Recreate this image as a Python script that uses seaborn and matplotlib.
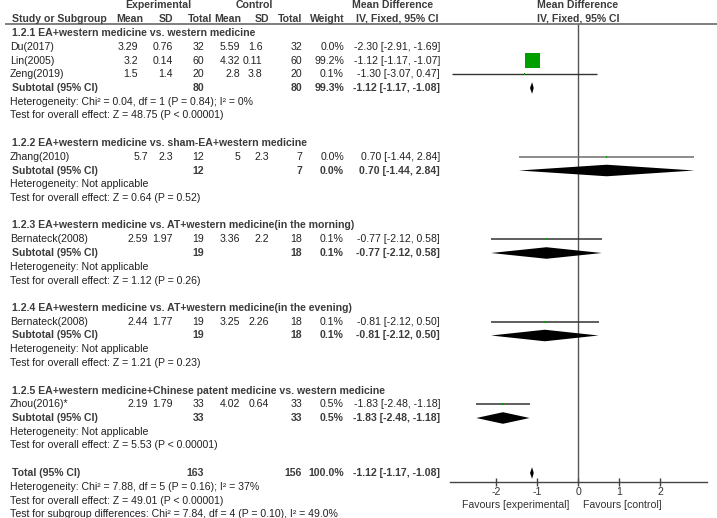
import matplotlib
matplotlib.use("Agg")
import matplotlib.pyplot as plt
import seaborn as sns
import pandas as pd

# ---- data ----
groups = [
    "1.2.1 EA+western medicine vs. western medicine",
    "1.2.2 EA+western medicine vs. sham-EA+western medicine",
    "1.2.3 EA+western medicine vs. AT+western medicine(in the morning)",
    "1.2.4 EA+western medicine vs. AT+western medicine(in the evening)",
    "1.2.5 EA+western medicine+Chinese patent medicine vs. western medicine",
]
study = ["Du(2017)", "Lin(2005)", "Zeng(2019)", "Zhang(2010)",
         "Bernateck(2008)", "Bernateck(2008)", "Zhou(2016)*"]
study_group = [0, 0, 0, 1, 2, 3, 4]
exp_mean = ["3.29", "3.2", "1.5", "5.7", "2.59", "2.44", "2.19"]
exp_sd = ["0.76", "0.14", "1.4", "2.3", "1.97", "1.77", "1.79"]
exp_n = [32, 60, 20, 12, 19, 19, 33]
ctl_mean = ["5.59", "4.32", "2.8", "5", "3.36", "3.25", "4.02"]
ctl_sd = ["1.6", "0.11", "3.8", "2.3", "2.2", "2.26", "0.64"]
ctl_n = [32, 60, 20, 7, 18, 18, 33]
weight = [0.0, 99.2, 0.1, 0.0, 0.1, 0.1, 0.5]
md = [-2.30, -1.12, -1.30, 0.70, -0.77, -0.81, -1.83]
md_lo = [-2.91, -1.17, -3.07, -1.44, -2.12, -2.12, -2.48]
md_hi = [-1.69, -1.07, 0.47, 2.84, 0.58, 0.50, -1.18]
plotted = [False, True, True, True, True, True, True]

sub_exp_n = [80, 12, 19, 19, 33]
sub_ctl_n = [80, 7, 18, 18, 33]
sub_weight = [99.3, 0.0, 0.1, 0.1, 0.5]
sub_md = [-1.12, 0.70, -0.77, -0.81, -1.83]
sub_lo = [-1.17, -1.44, -2.12, -2.12, -2.48]
sub_hi = [-1.08, 2.84, 0.58, 0.50, -1.18]
sub_het = [
    "Heterogeneity: Chi\u00b2 = 0.04, df = 1 (P = 0.84); I\u00b2 = 0%",
    "Heterogeneity: Not applicable",
    "Heterogeneity: Not applicable",
    "Heterogeneity: Not applicable",
    "Heterogeneity: Not applicable",
]
sub_test = [
    "Test for overall effect: Z = 48.75 (P < 0.00001)",
    "Test for overall effect: Z = 0.64 (P = 0.52)",
    "Test for overall effect: Z = 1.12 (P = 0.26)",
    "Test for overall effect: Z = 1.21 (P = 0.23)",
    "Test for overall effect: Z = 5.53 (P < 0.00001)",
]

total_exp_n, total_ctl_n, total_weight = 163, 156, 100.0
total_md, total_lo, total_hi = -1.12, -1.17, -1.08
total_notes = [
    "Heterogeneity: Chi\u00b2 = 7.88, df = 5 (P = 0.16); I\u00b2 = 37%",
    "Test for overall effect: Z = 49.01 (P < 0.00001)",
    "Test for subgroup differences: Chi\u00b2 = 7.84, df = 4 (P = 0.10), I\u00b2 = 49.0%",
]
xticks = [-2, -1, 0, 1, 2]

# ---- style ----
sns.set_theme(style="white")
plt.rcParams["font.family"] = ["Liberation Sans", "DejaVu Sans"]
plt.rcParams["axes.unicode_minus"] = False
FS = 7.55
TXT = "#222222"
BOLD = "#3c3c3c"

# pixel layout helpers: row i sits at pixel y = Y0 + DY * i
Y0, DY = 33, 13.75
W, H = 717, 518
def row_of(py):
    return (py - Y0) / DY

fig = plt.figure(figsize=(W / 100, H / 100), dpi=100)
ax_t = fig.add_axes([0, 0, 1, 1])
ax_t.set_xlim(0, W)
ax_t.set_ylim(row_of(H), row_of(0))
ax_t.axis("off")

fx0, fx1 = 450, 707
ax_f = fig.add_axes([fx0 / W, 0, (fx1 - fx0) / W, 1])
ax_f.set_xlim(-3.122, 3.146)
ax_f.set_ylim(row_of(H), row_of(0))
ax_f.patch.set_alpha(0)

def txt(x, r, s, bold=False, ha="left"):
    ax_t.text(x, r, s, ha=ha, va="center", fontsize=FS,
              color=BOLD if bold else TXT,
              fontweight="bold" if bold else "normal")

# column right edges (px)
COL = dict(em=148, esd=173, en=204, cm=240, csd=269, cn=302, w=344, md=440)

# header
hdr = -1.02
txt(158, -2.05, "Experimental", bold=True, ha="center")
txt(254, -2.05, "Control", bold=True, ha="center")
txt(393, -2.05, "Mean Difference", bold=True, ha="center")
txt(12, hdr, "Study or Subgroup", bold=True)
for x, s in [(143, "Mean"), (173, "SD"), (212, "Total"), (241, "Mean"),
             (269, "SD"), (302, "Total"), (345, "Weight"), (439, "IV, Fixed, 95% CI")]:
    txt(x, hdr, s, bold=True, ha="right")
line_r = row_of(23.5)
ax_t.hlines(line_r, 5, W, color="#6a6a6a", lw=1.2)
ax_f.text(0, -2.05, "Mean Difference", ha="center", va="center", fontsize=FS,
          color=BOLD, fontweight="bold")
ax_f.text(0, hdr, "IV, Fixed, 95% CI", ha="center", va="center", fontsize=FS,
          color=BOLD, fontweight="bold")

def fmt_ci(m, lo, hi):
    return f"{m:.2f} [{lo:.2f}, {hi:.2f}]"

pts = []
r = 0
for g, gname in enumerate(groups):
    txt(12, r, gname, bold=True)
    r += 1
    for i in range(len(study)):
        if study_group[i] != g:
            continue
        em_x = 138 if g == 0 else COL["em"]
        csd_x = 262.5 if g == 0 else COL["csd"]
        txt(10, r, study[i])
        txt(em_x, r, exp_mean[i], ha="right")
        txt(COL["esd"], r, exp_sd[i], ha="right")
        txt(COL["en"], r, str(exp_n[i]), ha="right")
        txt(COL["cm"], r, ctl_mean[i], ha="right")
        txt(csd_x, r, ctl_sd[i], ha="right")
        txt(COL["cn"], r, str(ctl_n[i]), ha="right")
        txt(COL["w"], r, f"{weight[i]:.1f}%", ha="right")
        txt(COL["md"], r, fmt_ci(md[i], md_lo[i], md_hi[i]), ha="right")
        if plotted[i]:
            lc = "#6e6e6e" if g == 1 else "#333333"
            ax_f.hlines(r, md_lo[i], md_hi[i], color=lc, lw=1.1 if g else 1.0, zorder=2)
            pts.append(dict(x=md[i], y=r, w=weight[i]))
        r += 1
    txt(12, r, "Subtotal (95% CI)", bold=True)
    txt(COL["en"], r, str(sub_exp_n[g]), bold=True, ha="right")
    txt(COL["cn"], r, str(sub_ctl_n[g]), bold=True, ha="right")
    txt(COL["w"], r, f"{sub_weight[g]:.1f}%", bold=True, ha="right")
    txt(COL["md"], r, fmt_ci(sub_md[g], sub_lo[g], sub_hi[g]), bold=True, ha="right")
    ax_f.fill([sub_lo[g], sub_md[g], sub_hi[g], sub_md[g]],
              [r, r - 0.42, r, r + 0.42], color="black", lw=0, zorder=3)
    r += 1
    txt(10, r, sub_het[g])
    r += 1
    txt(10, r, sub_test[g])
    r += 2

txt(12, r, "Total (95% CI)", bold=True)
txt(COL["en"], r, str(total_exp_n), bold=True, ha="right")
txt(COL["cn"], r, str(total_ctl_n), bold=True, ha="right")
txt(COL["w"], r, f"{total_weight:.1f}%", bold=True, ha="right")
txt(COL["md"], r, fmt_ci(total_md, total_lo, total_hi), bold=True, ha="right")
ax_f.fill([total_lo, total_md, total_hi, total_md],
          [r, r - 0.42, r, r + 0.42], color="black", lw=0, zorder=3)
for k, note in enumerate(total_notes):
    txt(10, r + 1 + k, note)

# study squares, area proportional to weight
df = pd.DataFrame(pts)
df["s"] = (116 * df["w"] / 99.2).clip(lower=1.2)
sns.scatterplot(data=df, x="x", y="y", size="s", sizes=(df["s"].min(), df["s"].max()),
                marker="s", color="#00a000", linewidth=0, legend=False, ax=ax_f,
                zorder=4)

# axis and null line
axis_r = row_of(482)
ax_f.vlines(0, line_r, axis_r, color="#555555", lw=1.0, zorder=1)
for sp in ["top", "left", "right"]:
    ax_f.spines[sp].set_visible(False)
ax_f.spines["bottom"].set_position(("data", axis_r))
ax_f.spines["bottom"].set_color("#444444")
ax_f.spines["bottom"].set_linewidth(1.0)
ax_f.set_xticks(xticks)
ax_f.set_xticklabels([str(t) for t in xticks])
ax_f.set_yticks([])
ax_f.tick_params(axis="x", direction="inout", length=6, width=1, color="#444444",
                 labelsize=FS, labelcolor="#333333", pad=0.5, bottom=True)
ax_f.set_xlabel("")
ax_f.set_ylabel("")
fav_r = row_of(505)
ax_f.text(-0.22, fav_r, "Favours [experimental]", ha="right", va="center",
          fontsize=FS, color="#333333")
ax_f.text(0.12, fav_r, "Favours [control]", ha="left", va="center",
          fontsize=FS, color="#333333")

fig.savefig("out.png", dpi=100)
